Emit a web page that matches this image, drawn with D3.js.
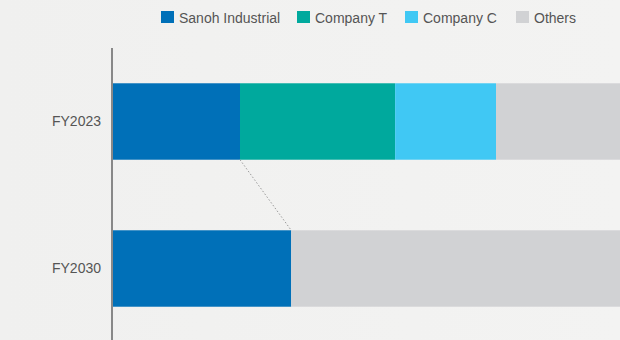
<!DOCTYPE html>
<html>
<head>
<meta charset="utf-8">
<script src="https://cdn.jsdelivr.net/npm/d3@7"></script>
<style>
  html, body { margin: 0; padding: 0; background: #f1f1f0; }
  svg { display: block; }
</style>
</head>
<body>
<svg id="chart" width="620" height="340"></svg>
<script>
const categories = ["FY2023", "FY2030"];
const seriesNames = ["Sanoh Industrial", "Company T", "Company C", "Others"];
const sanohValues = [25, 35];
const companyTValues = [30.3, 0];
const companyCValues = [19.7, 0];
const othersValues = [25, 65];
const colors = ["#0070b8", "#00a99d", "#40c8f4", "#d1d2d4"];

const rows = categories.map((c, i) => ({
  cat: c,
  "Sanoh Industrial": sanohValues[i],
  "Company T": companyTValues[i],
  "Company C": companyCValues[i],
  "Others": othersValues[i]
}));

const svg = d3.select("#chart");
const W = 620, H = 340;

// background gradient
const defs = svg.append("defs");
const grad = defs.append("linearGradient").attr("id", "bg").attr("x1", 0).attr("x2", 1).attr("y1", 0).attr("y2", 0);
grad.append("stop").attr("offset", "0%").attr("stop-color", "#f0f0ef");
grad.append("stop").attr("offset", "100%").attr("stop-color", "#f3f3f2");
svg.append("rect").attr("width", W).attr("height", H).attr("fill", "url(#bg)");

const x = d3.scaleLinear().domain([0, 100]).range([112, 624]);
const y = d3.scaleBand().domain(categories).range([48, 342]).paddingInner(0.48).paddingOuter(0.24);

const stack = d3.stack().keys(seriesNames);
const stacked = stack(rows);
const color = d3.scaleOrdinal().domain(seriesNames).range(colors);

svg.append("g").selectAll("g").data(stacked).join("g")
  .attr("fill", d => color(d.key))
  .selectAll("rect").data(d => d).join("rect")
  .attr("x", d => x(d[0]))
  .attr("y", d => y(d.data.cat))
  .attr("width", d => Math.max(0, x(d[1]) - x(d[0])))
  .attr("height", y.bandwidth());

// dotted connector between Sanoh ends
const s0 = stacked[0];
svg.append("line")
  .attr("x1", x(s0[0][1])).attr("y1", y(categories[0]) + y.bandwidth())
  .attr("x2", x(s0[1][1])).attr("y2", y(categories[1]))
  .attr("stroke", "#999").attr("stroke-width", 1).attr("stroke-dasharray", "1.5,2");

// y axis
const yAxis = svg.append("g").attr("transform", "translate(112,0)")
  .call(d3.axisLeft(y).tickSize(0).tickPadding(11));
yAxis.select(".domain").remove();
yAxis.selectAll("text")
  .attr("font-family", "Liberation Sans, Arial, sans-serif")
  .attr("font-size", 14).attr("fill", "#555");
svg.append("line").attr("x1", 112).attr("x2", 112).attr("y1", 48).attr("y2", 340)
  .attr("stroke", "#888").attr("stroke-width", 2);

// legend
const legendX = [161, 297, 405, 516];
const legend = svg.append("g");
seriesNames.forEach((n, i) => {
  const g = legend.append("g").attr("transform", `translate(${legendX[i]},11)`);
  g.append("rect").attr("width", 13).attr("height", 12).attr("fill", colors[i]);
  g.append("text").attr("x", 18).attr("y", 11.5)
    .attr("font-family", "Liberation Sans, Arial, sans-serif")
    .attr("font-size", 14).attr("fill", "#555").text(n);
});
</script>
</body>
</html>
